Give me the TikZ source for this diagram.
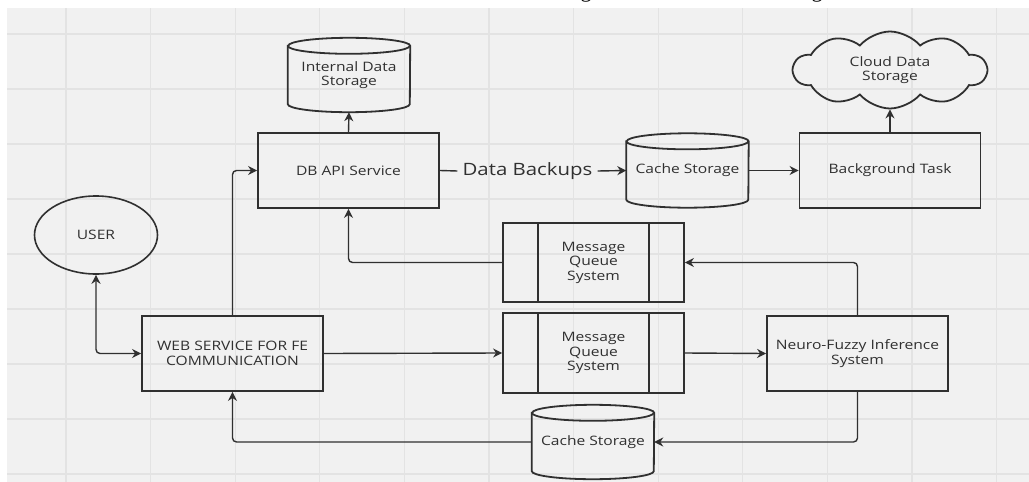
\documentclass[tikz,border=0pt]{standalone}
\usepackage{fontspec}
\setmainfont{Open Sans}[FakeStretch=1.2]
\newfontfamily\capfont{Liberation Serif}
\usetikzlibrary{arrows.meta,shapes.symbols,shapes.geometric,calc}
\definecolor{bgc}{HTML}{F1F1F1}
\definecolor{gridc}{HTML}{E3E3E3}
\definecolor{ink}{HTML}{303030}
\newcommand{\cylshape}[1]{%
  \draw[bord] ([yshift=-8pt]#1.north west) -- ([yshift=8pt]#1.south west)
    arc[start angle=180,end angle=360,x radius=61pt,y radius=8pt]
    -- ([yshift=-8pt]#1.north east)
    arc[start angle=0,end angle=180,x radius=61pt,y radius=8pt] -- cycle;
  \draw[bord] ([yshift=-8pt]#1.north west)
    arc[start angle=180,end angle=360,x radius=61pt,y radius=8pt];}
\begin{document}
\begin{tikzpicture}[x=1pt,y=1pt,
  bord/.style={draw=ink,line width=1.8pt},
  txt/.style={font=\fontsize{13}{14.5}\selectfont,text=ink,align=center},
  boxnode/.style={bord,txt,rectangle,minimum width=181pt,minimum height=75pt,inner sep=2pt},
  cylnode/.style={txt,rectangle,minimum width=122pt,minimum height=74pt,inner sep=0pt},
  conn/.style={draw=ink,line width=1.4pt,rounded corners=4pt},
  arr/.style={-{Stealth[length=9pt,width=9pt]}},
  biarr/.style={{Stealth[length=9pt,width=9pt]}-{Stealth[length=9pt,width=9pt]}},
]
\useasboundingbox (0,0) rectangle (1029,-482);
\fill[white] (0,0) rectangle (1029,-482);
\fill[bgc] (7,-8) rectangle (1029,-482);
\foreach \i in {0,...,11} \draw[gridc,line width=1.3pt] ({66+84.6*\i},-8) -- ({66+84.6*\i},-482);
\foreach \j in {0,...,8} \draw[gridc,line width=1.3pt] (7,{-34-55*\j}) -- (1029,{-34-55*\j});

% clipped caption fragments at the top edge
\begin{scope}
  \clip (0,0) rectangle (1029,-8);
  \node[font=\capfont\fontsize{22}{24}\selectfont,anchor=base,inner sep=0pt] (capa) at (586,3) {g};
  \node[font=\capfont\fontsize{22}{24}\selectfont,anchor=base,inner sep=0pt] (capb) at (817,3) {g};
\end{scope}

% nodes
\node[cylnode] (ids) at (349,-75) {Internal Data\\Storage};
\node[boxnode] (db) at (348.5,-170.5) {DB API Service};
\node[cylnode] (cs1) at (687.5,-170.5) {Cache Storage};
\node[boxnode] (bt) at (890,-170.5) {Background Task};
\node[cloud,bord,cloud puffs=10,cloud puff arc=100,aspect=2.5,minimum width=193pt,minimum height=77pt,inner sep=0pt,txt] (cloud) at (890,-70) {Cloud Data\\Storage};
\node[ellipse,bord,txt,line width=1.6pt,minimum width=123pt,minimum height=78pt] (user) at (96,-235) {USER};
\node[boxnode] (ws) at (232.5,-353.5) {WEB SERVICE FOR FE\\COMMUNICATION};
\node[boxnode,minimum height=79pt] (mq1) at (593.5,-262.5) {Message\\Queue\\System};
\node[boxnode,minimum height=80pt] (mq2) at (593.5,-353) {Message\\Queue\\System};
\node[boxnode] (nf) at (857.5,-353.5) {Neuro-Fuzzy Inference\\System};
\node[cylnode] (cs2) at (593,-442) {Cache Storage};
\node[font=\fontsize{17}{19}\selectfont,text=ink,inner sep=5pt] (lbl) at (527.5,-171) {Data Backups};

\cylshape{ids}
\cylshape{cs1}
\cylshape{cs2}
\foreach \m in {mq1,mq2}{
  \draw[bord] ([xshift=36pt]\m.north west) -- ([xshift=36pt]\m.south west);
  \draw[bord] ([xshift=-36pt]\m.north east) -- ([xshift=-36pt]\m.south east);
}

% connectors
\draw[conn,arr] (db.north) -- (ids.south);
\draw[conn,arr] (ws.north) |- (db.west);
\draw[conn] (db.east) -- (lbl.west);
\draw[conn,arr] (lbl.east) -- (cs1.west);
\draw[conn,arr] (cs1.east) -- (bt.west);
\draw[conn,arr] (bt.north) -- (cloud.south);
\draw[conn,biarr] (user.south) |- (ws.west);
\draw[conn,arr] (ws.east) -- (mq2.west);
\draw[conn,arr] (mq2.east) -- (nf.west);
\draw[conn,arr] (nf.north) |- (mq1.east);
\draw[conn,arr] (mq1.west) -| (db.south);
\draw[conn,arr] (nf.south) |- (cs2.east);
\draw[conn,arr] (cs2.west) -| (ws.south);
\end{tikzpicture}
\end{document}
